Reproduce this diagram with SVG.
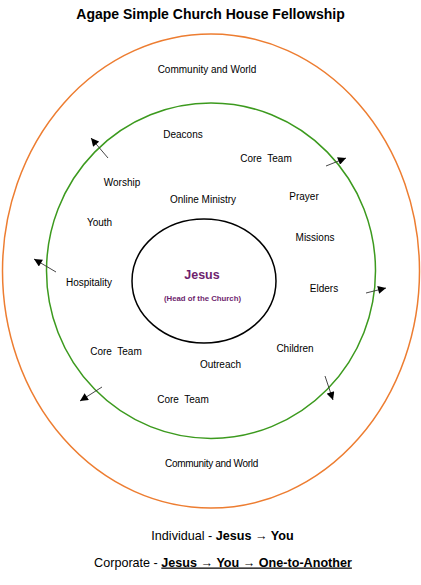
<svg xmlns="http://www.w3.org/2000/svg" width="421" height="585" viewBox="0 0 421 585">
<defs>
<marker id="ah" viewBox="0 0 10 10" refX="10" refY="5" markerWidth="9" markerHeight="8" markerUnits="userSpaceOnUse" orient="auto">
<path d="M0,0 L10,5 L0,10 z" fill="#000"/>
</marker>
</defs>
<style>
text{font-family:"Liberation Sans",Arial,sans-serif;fill:#000;}
.lbl{font-size:10px;text-anchor:middle;white-space:pre;}
.title{font-size:14px;font-weight:bold;text-anchor:middle;}
.jesus{fill:#6e1f6e;font-weight:bold;text-anchor:middle;}
.foot{font-size:12.6px;text-anchor:middle;}
.b{font-weight:bold;}
.arr{stroke:#333;stroke-width:0.9;fill:none;marker-end:url(#ah);}
</style>
<rect width="421" height="585" fill="#fff"/>
<text class="title" x="210.5" y="19">Agape Simple Church House Fellowship</text>
<g id="outer-circle">
<ellipse cx="211" cy="271" rx="208.5" ry="237" fill="none" stroke="#ED7D31" stroke-width="1.5"/>
<text class="lbl" x="207" y="72.5">Community and World</text>
<text class="lbl" x="211.5" y="466.5" letter-spacing="-0.3">Community and World</text>
</g>
<g id="middle-circle">
<ellipse cx="211" cy="270.7" rx="164.5" ry="167.7" fill="none" stroke="#3C9A1E" stroke-width="1.5"/>
<text class="lbl" x="183" y="137.5">Deacons</text>
<text class="lbl" x="266" y="161.5">Core  Team</text>
<text class="lbl" x="122" y="185.5">Worship</text>
<text class="lbl" x="203" y="202.5">Online Ministry</text>
<text class="lbl" x="304" y="199.5">Prayer</text>
<text class="lbl" x="99.5" y="225.5">Youth</text>
<text class="lbl" x="315" y="240.5">Missions</text>
<text class="lbl" x="89" y="285.5">Hospitality</text>
<text class="lbl" x="324" y="291.5">Elders</text>
<text class="lbl" x="116" y="354.5">Core  Team</text>
<text class="lbl" x="295" y="351.5">Children</text>
<text class="lbl" x="220.5" y="367.5">Outreach</text>
<text class="lbl" x="183" y="402.5">Core  Team</text>
</g>
<g id="jesus">
<ellipse cx="204" cy="281" rx="72" ry="62" fill="none" stroke="#000" stroke-width="1.5"/>
<text class="jesus" x="202" y="278.5" font-size="12.5">Jesus</text>
<text class="jesus" x="202.5" y="300.8" font-size="7.8">(Head of the Church)</text>
</g>
<g id="connectors">
<line class="arr" x1="108" y1="158" x2="91" y2="138"/>
<line class="arr" x1="326" y1="166" x2="346" y2="158"/>
<line class="arr" x1="56" y1="272" x2="34" y2="259"/>
<line class="arr" x1="366" y1="293" x2="386" y2="288"/>
<line class="arr" x1="102" y1="387" x2="80" y2="401"/>
<line class="arr" x1="325" y1="376" x2="333" y2="400"/>
</g>
<g id="legend">
<text class="foot" x="222.5" y="539.5">Individual - <tspan class="b">Jesus → You</tspan></text>
<text class="foot" x="223" y="566.5">Corporate - <tspan class="b" text-decoration="underline">Jesus → You → One-to-Another</tspan></text>
</g>
</svg>
